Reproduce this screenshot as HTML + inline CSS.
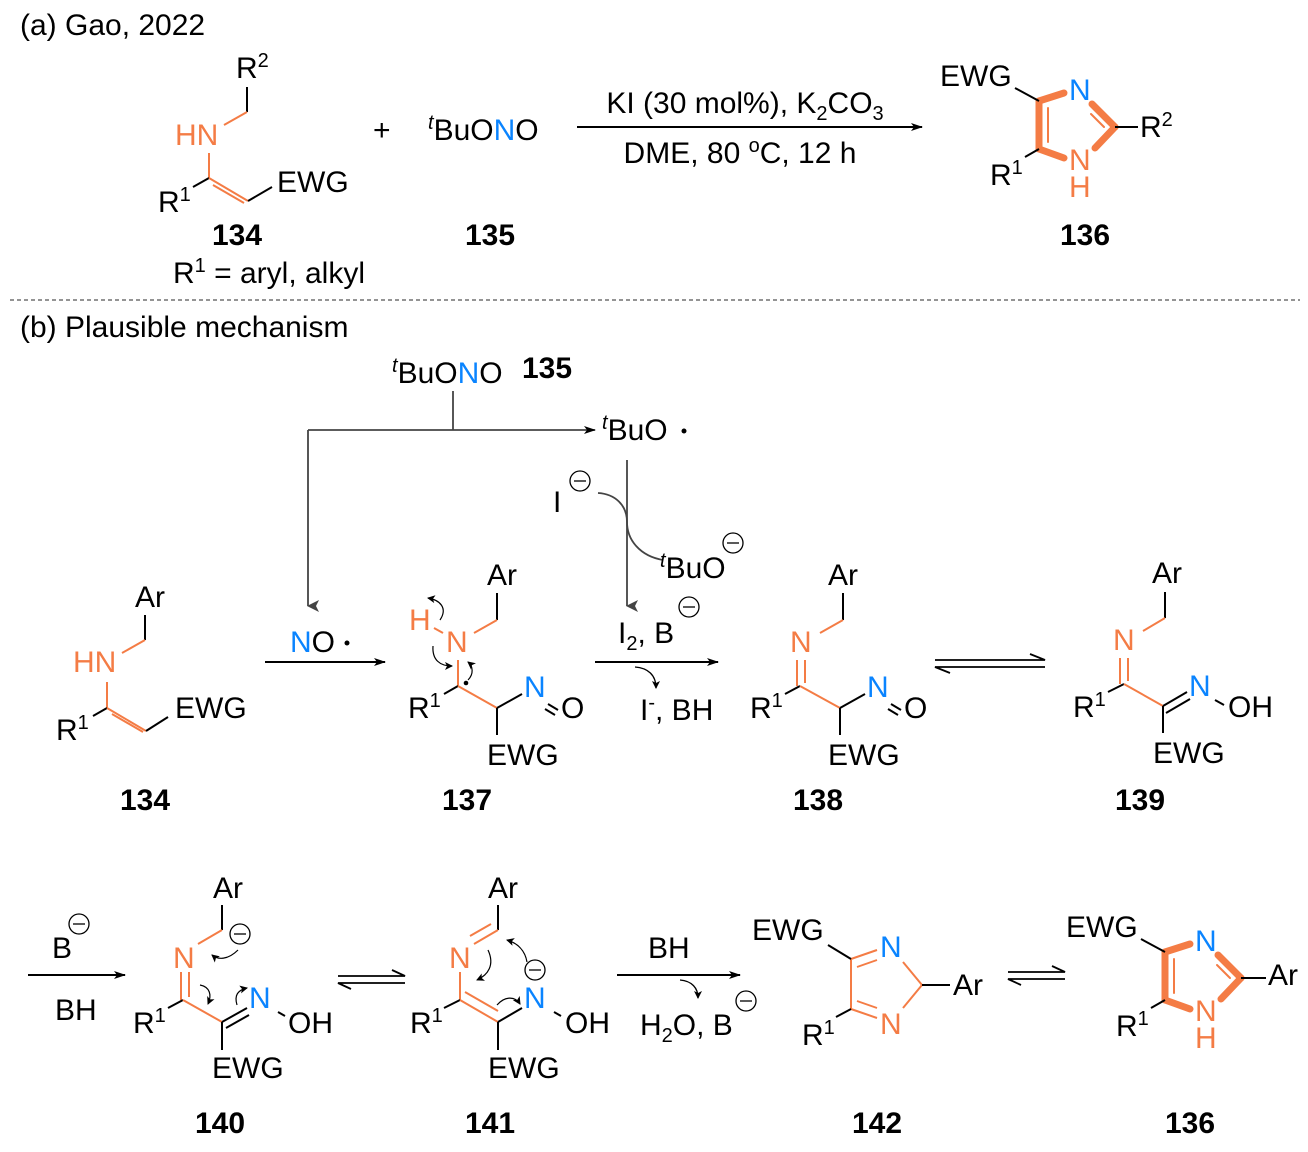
<!DOCTYPE html>
<html><head><meta charset="utf-8"><style>
html,body{margin:0;padding:0;background:#fff}
svg{display:block}
text{font-family:"Liberation Sans",Arial,sans-serif;font-size:30px;fill:#000}
.o{fill:#f47c45}.b{fill:#0a84ff}.bd{font-weight:bold}
.sup{font-size:20px}
</style></head><body>
<svg width="1308" height="1152" viewBox="0 0 1308 1152" xmlns="http://www.w3.org/2000/svg">
<defs>
<marker id="ah" markerWidth="12" markerHeight="10" refX="11" refY="5" orient="auto" markerUnits="userSpaceOnUse"><path d="M0,1 L12,5 L0,9 L3,5z" fill="#000"/></marker>
<marker id="ahg" markerWidth="12" markerHeight="12" refX="6" refY="11" orient="auto" markerUnits="userSpaceOnUse"><path d="M0,0 L6,12 L12,0 L6,3z" fill="#444"/></marker>
<marker id="sm" markerWidth="8" markerHeight="8" refX="7" refY="4" orient="auto" markerUnits="userSpaceOnUse"><path d="M0,0 L8,4 L0,8 L2,4z" fill="#000"/></marker>
<g id="minus"><circle cx="0" cy="0" r="10" fill="none" stroke="#000" stroke-width="1.3"/><line x1="-6" y1="0" x2="6" y2="0" stroke="#000" stroke-width="1.3"/></g>
</defs>
<g stroke="#000" stroke-width="2" fill="none">
<line x1="247" y1="87" x2="247" y2="112"/>
<line x1="247" y1="112" x2="224" y2="125" stroke="#f47c45"/>
<line x1="209" y1="153" x2="209" y2="178" stroke="#f47c45"/>
<line x1="209" y1="178" x2="193" y2="187"/>
<line x1="209" y1="178" x2="248" y2="201" stroke="#f47c45"/>
<line x1="213" y1="186" x2="244" y2="204" stroke="#f47c45" transform="translate(0,-1)"/>
<line x1="248" y1="201" x2="272" y2="187"/>
<line x1="577" y1="127" x2="922" y2="127" marker-end="url(#ah)"/>
</g>
<text x="20" y="35">(a) Gao, 2022</text>
<text x="236" y="78">R<tspan class="sup" dy="-11">2</tspan></text>
<text x="175" y="145" class="o">HN</text>
<text x="158" y="212">R<tspan class="sup" dy="-11">1</tspan></text>
<text x="277" y="192">EWG</text>
<text x="237" y="245" class="bd" text-anchor="middle">134</text>
<text x="173" y="283">R<tspan class="sup" dy="-11">1</tspan><tspan dy="11"> = aryl, alkyl</tspan></text>
<text x="373" y="140">+</text>
<text x="428" y="140"><tspan class="sup" font-style="italic" dy="-11">t</tspan><tspan dy="11">BuO</tspan><tspan class="b">N</tspan>O</text>
<text x="490" y="245" class="bd" text-anchor="middle">135</text>
<text x="745" y="113" text-anchor="middle">KI (30 mol%), K<tspan class="sup" dy="7">2</tspan><tspan dy="-7">CO</tspan><tspan class="sup" dy="7">3</tspan></text>
<text x="740" y="163" text-anchor="middle">DME, 80 <tspan class="sup" dy="-11">o</tspan><tspan dy="11">C, 12 h</tspan></text>

<g id="imid">
<g stroke="#f47c45" fill="none" stroke-linecap="round">
<line x1="1039" y1="101" x2="1064" y2="93" stroke-width="7"/>
<line x1="1039" y1="101" x2="1039" y2="149" stroke-width="7"/>
<line x1="1039" y1="149" x2="1064" y2="158" stroke-width="7"/>
<line x1="1092" y1="104" x2="1115" y2="127" stroke-width="7"/>
<line x1="1115" y1="127" x2="1095" y2="148" stroke-width="7"/>
<line x1="1048" y1="108" x2="1048" y2="142" stroke-width="2"/>
<line x1="1091" y1="114" x2="1104" y2="127" stroke-width="2"/>
</g>
<g stroke="#000" stroke-width="2">
<line x1="1039" y1="101" x2="1015" y2="88"/>
<line x1="1039" y1="149" x2="1025" y2="157"/>
</g>
<text x="940" y="86">EWG</text>
<text x="1069" y="100" class="b">N</text>
<text x="1069" y="170" class="o">N</text>
<text x="1069" y="197" class="o">H</text>
<text x="990" y="185">R<tspan class="sup" dy="-11">1</tspan></text>
</g>
<line x1="1115" y1="127" x2="1138" y2="127" stroke="#000" stroke-width="2"/>
<text x="1140" y="137">R<tspan class="sup" dy="-11">2</tspan></text>
<text x="1085" y="245" class="bd" text-anchor="middle">136</text>

<line x1="10" y1="300" x2="1300" y2="300" stroke="#555" stroke-width="1.2" stroke-dasharray="4,3"/>

<text x="20" y="337">(b) Plausible mechanism</text>
<text x="392" y="383"><tspan class="sup" font-style="italic" dy="-11">t</tspan><tspan dy="11">BuO</tspan><tspan class="b">N</tspan>O</text>
<text x="522" y="378" class="bd">135</text>
<g stroke="#444" stroke-width="1.8" fill="none">
<line x1="453" y1="391" x2="453" y2="430"/>
<line x1="308" y1="430" x2="595" y2="430" marker-end="url(#ah)"/>
<line x1="308" y1="430" x2="308" y2="606" marker-end="url(#ahg)"/>
<line x1="627" y1="460" x2="627" y2="606" marker-end="url(#ahg)"/>
<path d="M598,493 C615,494 627,505 627,522 C627,540 640,556 663,560"/>
</g>
<text x="602" y="440"><tspan class="sup" font-style="italic" dy="-11">t</tspan><tspan dy="11">BuO</tspan></text>
<circle cx="684" cy="431" r="2.5" fill="#000"/>
<text x="553" y="512">I</text>
<use href="#minus" x="580" y="481"/>
<text x="660" y="578"><tspan class="sup" font-style="italic" dy="-11">t</tspan><tspan dy="11">BuO</tspan></text>
<use href="#minus" x="733" y="543"/>

<text x="290" y="652"><tspan class="b">N</tspan>O</text>
<circle cx="347" cy="643" r="2.5" fill="#000"/>
<line x1="265" y1="662" x2="385" y2="662" stroke="#000" stroke-width="2" marker-end="url(#ah)"/>

<text x="618" y="643">I<tspan class="sup" dy="7">2</tspan><tspan dy="-7">, B</tspan></text>
<use href="#minus" x="689" y="607"/>
<line x1="595" y1="662" x2="718" y2="662" stroke="#000" stroke-width="2" marker-end="url(#ah)"/>
<path d="M635,667 C648,668 656,675 656,688" stroke="#000" stroke-width="1.3" fill="none" marker-end="url(#sm)"/>
<text x="640" y="720">I<tspan class="sup" dy="-11">-</tspan><tspan dy="11">, BH</tspan></text>

<g stroke="#000" stroke-width="2">
<line x1="145" y1="615" x2="145" y2="640"/>
<line x1="145" y1="640" x2="122" y2="653" stroke="#f47c45"/>
<line x1="107" y1="682" x2="107" y2="708" stroke="#f47c45"/>
<line x1="107" y1="708" x2="93" y2="716"/>
<line x1="107" y1="708" x2="146" y2="731" stroke="#f47c45"/>
<line x1="112" y1="715" x2="143" y2="733" stroke="#f47c45" transform="translate(0,-1)"/>
<line x1="146" y1="731" x2="168" y2="717"/>
</g>
<text x="135" y="607">Ar</text>
<text x="73" y="672" class="o">HN</text>
<text x="56" y="740">R<tspan class="sup" dy="-11">1</tspan></text>
<text x="175" y="718">EWG</text>
<text x="145" y="810" class="bd" text-anchor="middle">134</text>

<g stroke="#000" stroke-width="2">
<line x1="497" y1="593" x2="497" y2="620"/>
<line x1="497" y1="620" x2="474" y2="633" stroke="#f47c45"/>
<line x1="434" y1="628" x2="443" y2="633" stroke="#f47c45"/>
<line x1="458" y1="660" x2="458" y2="686" stroke="#f47c45"/>
<line x1="458" y1="686" x2="444" y2="694"/>
<line x1="458" y1="686" x2="497" y2="708" stroke="#f47c45"/>
<line x1="497" y1="708" x2="522" y2="694"/>
<line x1="548" y1="704" x2="558" y2="710"/>
<line x1="545" y1="709" x2="555" y2="715"/>
<line x1="497" y1="708" x2="497" y2="735"/>
</g>
<g stroke="#000" stroke-width="1.2" fill="none">
<path d="M440,620 C448,608 440,600 428,598" marker-end="url(#sm)"/>
<path d="M433,646 C432,660 440,666 452,666" marker-end="url(#sm)"/>
<path d="M468,680 C474,674 473,666 468,662" marker-end="url(#sm)"/>
</g>
<circle cx="466" cy="683" r="2.3" fill="#000"/>
<text x="487" y="585">Ar</text>
<text x="409" y="630" class="o">H</text>
<text x="446" y="652" class="o">N</text>
<text x="408" y="718">R<tspan class="sup" dy="-11">1</tspan></text>
<text x="524" y="697" class="b">N</text>
<text x="561" y="718">O</text>
<text x="487" y="765">EWG</text>
<text x="467" y="810" class="bd" text-anchor="middle">137</text>

<g stroke="#000" stroke-width="2">
<line x1="843" y1="593" x2="843" y2="620"/>
<line x1="843" y1="620" x2="820" y2="633" stroke="#f47c45"/>
<line x1="797" y1="660" x2="797" y2="686" stroke="#f47c45"/>
<line x1="805" y1="660" x2="805" y2="683" stroke="#f47c45"/>
<line x1="800" y1="686" x2="785" y2="694"/>
<line x1="800" y1="686" x2="840" y2="708" stroke="#f47c45"/>
<line x1="840" y1="708" x2="865" y2="694"/>
<line x1="891" y1="704" x2="901" y2="710"/>
<line x1="888" y1="709" x2="898" y2="715"/>
<line x1="840" y1="708" x2="840" y2="735"/>
</g>
<text x="828" y="585">Ar</text>
<text x="790" y="652" class="o">N</text>
<text x="750" y="718">R<tspan class="sup" dy="-11">1</tspan></text>
<text x="867" y="697" class="b">N</text>
<text x="904" y="718">O</text>
<text x="828" y="765">EWG</text>
<text x="818" y="810" class="bd" text-anchor="middle">138</text>

<g stroke="#000" stroke-width="1.8" fill="none">
<path d="M935,660 L1045,660 L1030,654"/>
<path d="M1045,667 L935,667 L950,673"/>
<path d="M338,976 L405,976 L392,970"/>
<path d="M405,983 L338,983 L351,989"/>
<path d="M1008,972 L1065,972 L1052,966"/>
<path d="M1065,979 L1008,979 L1021,985"/>
</g>

<g stroke="#000" stroke-width="2">
<line x1="1165" y1="592" x2="1165" y2="618"/>
<line x1="1165" y1="618" x2="1143" y2="631" stroke="#f47c45"/>
<line x1="1120" y1="658" x2="1120" y2="684" stroke="#f47c45"/>
<line x1="1128" y1="658" x2="1128" y2="681" stroke="#f47c45"/>
<line x1="1124" y1="684" x2="1108" y2="692"/>
<line x1="1124" y1="684" x2="1163" y2="706" stroke="#f47c45"/>
<line x1="1163" y1="706" x2="1187" y2="692"/>
<line x1="1166" y1="714" x2="1190" y2="700" transform="translate(0,-1)"/>
<line x1="1215" y1="700" x2="1224" y2="705"/>
<line x1="1163" y1="706" x2="1163" y2="733"/>
</g>
<text x="1152" y="583">Ar</text>
<text x="1113" y="650" class="o">N</text>
<text x="1073" y="717">R<tspan class="sup" dy="-11">1</tspan></text>
<text x="1189" y="696" class="b">N</text>
<text x="1228" y="717">OH</text>
<text x="1153" y="763">EWG</text>
<text x="1140" y="810" class="bd" text-anchor="middle">139</text>

<text x="52" y="958">B</text>
<use href="#minus" x="79" y="924"/>
<line x1="28" y1="975" x2="125" y2="975" stroke="#000" stroke-width="2" marker-end="url(#ah)"/>
<text x="55" y="1020">BH</text>

<g stroke="#000" stroke-width="2">
<line x1="222" y1="905" x2="222" y2="930"/>
<line x1="222" y1="930" x2="198" y2="944" stroke="#f47c45"/>
<line x1="181" y1="972" x2="181" y2="1000" stroke="#f47c45"/>
<line x1="189" y1="972" x2="189" y2="997" stroke="#f47c45"/>
<line x1="183" y1="1000" x2="168" y2="1008"/>
<line x1="183" y1="1000" x2="222" y2="1022" stroke="#f47c45"/>
<line x1="222" y1="1022" x2="247" y2="1008"/>
<line x1="226" y1="1029" x2="249" y2="1016" transform="translate(0,-1)"/>
<line x1="278" y1="1012" x2="285" y2="1016"/>
<line x1="222" y1="1022" x2="222" y2="1050"/>
</g>
<g stroke="#000" stroke-width="1.2" fill="none">
<path d="M238,950 C228,960 218,960 212,955" marker-end="url(#sm)"/>
<path d="M200,985 C210,987 212,995 208,1004" marker-end="url(#sm)"/>
<path d="M237,1005 C234,995 238,990 247,988" marker-end="url(#sm)"/>
</g>
<use href="#minus" x="240" y="934"/>
<text x="213" y="898">Ar</text>
<text x="173" y="968" class="o">N</text>
<text x="133" y="1033">R<tspan class="sup" dy="-11">1</tspan></text>
<text x="249" y="1008" class="b">N</text>
<text x="288" y="1033">OH</text>
<text x="212" y="1078">EWG</text>
<text x="220" y="1133" class="bd" text-anchor="middle">140</text>

<g stroke="#000" stroke-width="2">
<line x1="498" y1="905" x2="498" y2="930"/>
<line x1="498" y1="930" x2="474" y2="944" stroke="#f47c45"/>
<line x1="493" y1="925" x2="472" y2="937" stroke="#f47c45" transform="translate(-2,-1)"/>
<line x1="460" y1="972" x2="460" y2="1000" stroke="#f47c45"/>
<line x1="460" y1="1000" x2="444" y2="1008"/>
<line x1="460" y1="1000" x2="498" y2="1022" stroke="#f47c45"/>
<line x1="464" y1="993" x2="497" y2="1012" stroke="#f47c45" transform="translate(1,-1)"/>
<line x1="498" y1="1022" x2="522" y2="1008"/>
<line x1="554" y1="1012" x2="561" y2="1016"/>
<line x1="498" y1="1022" x2="498" y2="1050"/>
</g>
<g stroke="#000" stroke-width="1.2" fill="none">
<path d="M488,950 C495,965 488,975 477,980" marker-end="url(#sm)"/>
<path d="M527,962 C525,950 517,943 507,940" marker-end="url(#sm)"/>
<path d="M497,1005 C505,996 515,996 520,1004" marker-end="url(#sm)"/>
</g>
<use href="#minus" x="535" y="970"/>
<text x="488" y="898">Ar</text>
<text x="449" y="968" class="o">N</text>
<text x="410" y="1033">R<tspan class="sup" dy="-11">1</tspan></text>
<text x="524" y="1008" class="b">N</text>
<text x="565" y="1033">OH</text>
<text x="488" y="1078">EWG</text>
<text x="490" y="1133" class="bd" text-anchor="middle">141</text>

<text x="648" y="958">BH</text>
<line x1="617" y1="975" x2="740" y2="975" stroke="#000" stroke-width="2" marker-end="url(#ah)"/>
<path d="M680,980 C692,981 698,988 698,998" stroke="#000" stroke-width="1.3" fill="none" marker-end="url(#sm)"/>
<text x="640" y="1035">H<tspan class="sup" dy="7">2</tspan><tspan dy="-7">O, B</tspan></text>
<use href="#minus" x="746" y="1001"/>

<g stroke="#f47c45" stroke-width="2">
<line x1="851" y1="959" x2="877" y2="950"/>
<line x1="857" y1="967" x2="877" y2="960" stroke-width="1.8"/>
<line x1="851" y1="959" x2="851" y2="1009"/>
<line x1="851" y1="1009" x2="877" y2="1018"/>
<line x1="857" y1="1001" x2="877" y2="1008" stroke-width="1.8"/>
<line x1="903" y1="962" x2="922" y2="985"/>
<line x1="922" y1="985" x2="903" y2="1008"/>
</g>
<g stroke="#000" stroke-width="2">
<line x1="851" y1="959" x2="828" y2="945"/>
<line x1="851" y1="1009" x2="836" y2="1017"/>
<line x1="922" y1="985" x2="950" y2="985"/>
</g>
<text x="752" y="940">EWG</text>
<text x="880" y="957" class="b">N</text>
<text x="880" y="1034" class="o">N</text>
<text x="953" y="995">Ar</text>
<text x="802" y="1045">R<tspan class="sup" dy="-11">1</tspan></text>
<text x="877" y="1133" class="bd" text-anchor="middle">142</text>

<use href="#imid" x="126" y="851"/>
<line x1="1241" y1="978" x2="1266" y2="978" stroke="#000" stroke-width="2"/>
<text x="1268" y="985">Ar</text>
<text x="1190" y="1133" class="bd" text-anchor="middle">136</text>
</svg>
</body></html>
